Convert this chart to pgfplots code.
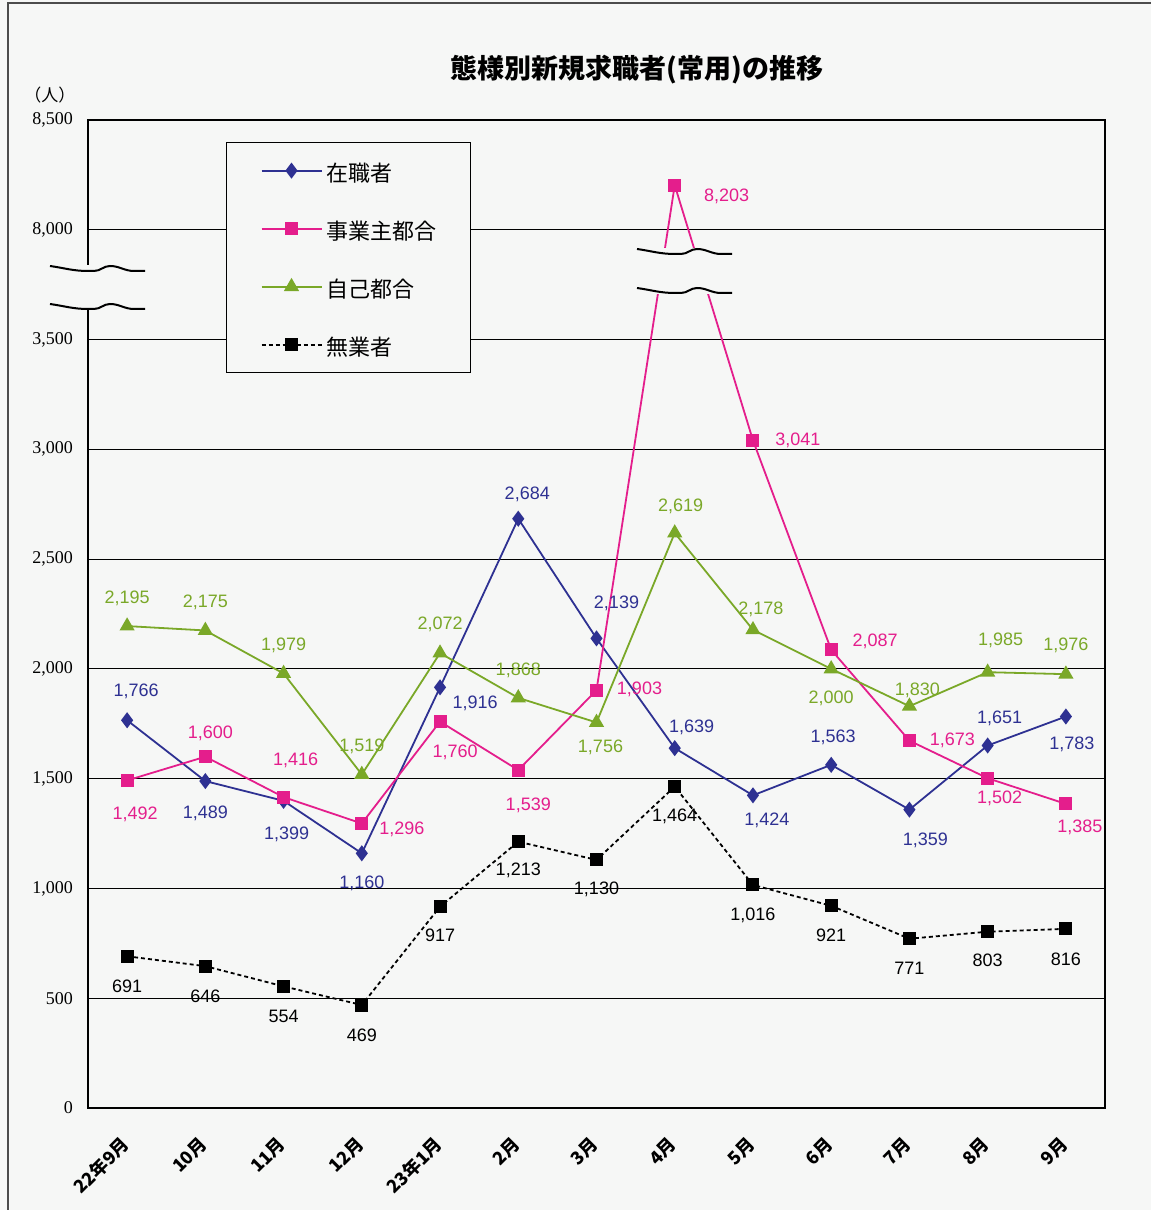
\documentclass[border=0pt]{standalone}
\usepackage{pgfplots}
\pgfplotsset{compat=1.18}
\usepackage{pgfplotstable}
\usepackage{fontspec}
\setmainfont{Liberation Sans}
\newfontfamily\jp{Noto Sans CJK JP}
\newfontfamily\serf{Liberation Serif}
\definecolor{cblue}{RGB}{46,49,146}
\definecolor{cmag}{RGB}{228,30,140}
\definecolor{cgreen}{RGB}{122,168,40}
\definecolor{bg}{RGB}{246,247,246}

% y values above the break (8,000-8,500) are plotted as 4000 + (value - 8000)
\pgfplotstableread{
x y lab dx dy
0 1766 1,766 4.5 14.5
1 1489 1,489 0 -16
2 1399 1,399 1.5 -17
3 1160 1,160 0 -15
4 1916 1,916 17.5 -8
5 2684 2,684 4.5 12
6 2139 2,139 10 17.5
7 1639 1,639 8.5 10.5
8 1424 1,424 7 -12.5
9 1563 1,563 1 13.5
10 1359 1,359 8 -15.5
11 1651 1,651 6 13.5
12 1783 1,783 3 -14
}\zai
\pgfplotstableread{
x y lab dx dy
0 1492 1,492 4 -17
1 1600 1,600 2.5 11.5
2 1416 1,416 6 18.5
3 1296 1,296 20 -3
4 1760 1,760 7.5 -15.5
5 1539 1,539 5 -17.5
6 1903 1,903 21.5 0.5
7 4203 8,203 26 -5.5
8 3041 3,041 22.5 0
9 2087 2,087 22 4
10 1673 1,673 21.5 0
11 1502 1,502 6 -10
12 1385 1,385 7 -11.5
}\jigyo
\pgfplotstableread{
x y lab dx dy
0 2195 2,195 0 14
1 2175 2,175 0 14
2 1979 1,979 0 14
3 1519 1,519 0 14
4 2072 2,072 0 14.5
5 1868 1,868 0 14
6 1756 1,756 2 -12.5
7 2619 2,619 3 13.5
8 2178 2,178 4 10
9 2000 2,000 0 -14.5
10 1830 1,830 4 8
11 1985 1,985 6.5 16
12 1976 1,976 0 14.5
}\jiko
\pgfplotstableread{
x y lab dx dy
0 691 691 0 -15
1 646 646 0 -15
2 554 554 0 -15
3 469 469 0 -15
4 917 917 0 -14.5
5 1213 1,213 0 -14.5
6 1130 1,130 0 -14.5
7 1464 1,464 0 -15
8 1016 1,016 0 -15
9 921 921 0 -15
10 771 771 0 -15
11 803 803 0 -14.5
12 816 816 0 -15
}\mugyo

\tikzset{wave/.pic={\draw[line width=1pt,black] (0,0) to[out=-8,in=180] ++(19pt,-2.5pt) -- ++(3pt,0pt) to[out=0,in=180] ++(8pt,2.5pt) to[out=0,in=180] ++(12pt,-2.5pt) -- ++(5.5pt,0pt);}}

\pgfplotsset{
  lbl/.style={nodes near coords, point meta=explicit symbolic,
    visualization depends on={\thisrow{dx}\as\dx},
    visualization depends on={\thisrow{dy}\as\dy},
    every node near coord/.append style={font=\fontsize{9}{10}\selectfont, text=#1, anchor=center, xshift=\dx pt, yshift=\dy pt, inner sep=0pt}}
}

\begin{document}
\begin{tikzpicture}
\path[use as bounding box, fill=bg] (-44pt,-51pt) rectangle (531.5pt,554pt);
\draw[gray!60!black, line width=0.8pt] (-40pt,-51pt) -- (-40pt,552.5pt) -- (531.5pt,552.5pt);
\begin{axis}[
  at={(0pt,0pt)}, anchor=south west,
  scale only axis, width=508.5pt, height=494pt,
  xmin=-0.5, xmax=12.5, ymin=0, ymax=4500,
  clip=false,
  xtick={0,...,12},
  xticklabels={22年9月,10月,11月,12月,23年1月,2月,3月,4月,5月,6月,7月,8月,9月},
  ytick={0,500,...,4500},
  yticklabels={0,500,{1,000},{1,500},{2,000},{2,500},{3,000},{3,500},{8,000},{8,500}},
  ymajorgrids, grid style={black, line width=0.6pt},
  major tick length=0pt,
  axis line style={black, line width=0.7pt},
  yticklabel style={font=\serf\fontsize{9}{10}\selectfont, xshift=-4pt},
  xticklabel style={font=\jp\bfseries\fontsize{9}{11}\selectfont, rotate=45, anchor=north east, xshift=-8.7pt, yshift=-3.5pt},
  legend style={at={(0.1357,0.9777)}, anchor=north west, draw=black, line width=0.6pt, fill=bg,
    font=\jp\fontsize{11}{13}\selectfont, inner xsep=17pt, inner ysep=8.5pt, row sep=18pt, column sep=2pt,
    nodes={inner sep=0pt, text height=11pt, text depth=0pt}},
  legend cell align=left,
  legend image code/.code={\draw[mark repeat=2,mark phase=2] plot coordinates {(0pt,0pt)(15pt,0pt)(30pt,0pt)};},
]
\addplot[cblue, line width=0.9pt, mark=diamond*, mark size=3.3pt, lbl=cblue] table[x=x,y=y,meta=lab]{\zai};
\addlegendentry{在職者}
\addplot[cmag, line width=0.9pt, mark=square*, mark size=2.8pt, lbl=cmag] table[x=x,y=y,meta=lab]{\jigyo};
\addlegendentry{事業主都合}
\addplot[cgreen, line width=0.9pt, mark=triangle*, mark size=3.5pt, lbl=cgreen] table[x=x,y=y,meta=lab]{\jiko};
\addlegendentry{自己都合}
\addplot[black, line width=0.9pt, dash pattern=on 2pt off 1.5pt, mark=square*, mark size=2.8pt, mark options={solid}, lbl=black] table[x=x,y=y,meta=lab]{\mugyo};
\addlegendentry{無業者}
\end{axis}
% axis breaks
\fill[bg] (-19pt,399pt) rectangle (28.5pt,421.5pt);
\pic at (-19pt,421pt) {wave};
\pic at (-19pt,402pt) {wave};
\fill[bg] (274.5pt,407pt) rectangle (322.5pt,430pt);
\pic at (274.5pt,429.5pt) {wave};
\pic at (274.5pt,410pt) {wave};
\node[font=\jp\bfseries\fontsize{13.5}{15}\selectfont] at (274.5pt,519pt) {態様別新規求職者(常用)の推移};
\node[font=\jp\fontsize{8.5}{10}\selectfont] at (-19pt,506.5pt) {（人）};
\end{tikzpicture}
\end{document}
